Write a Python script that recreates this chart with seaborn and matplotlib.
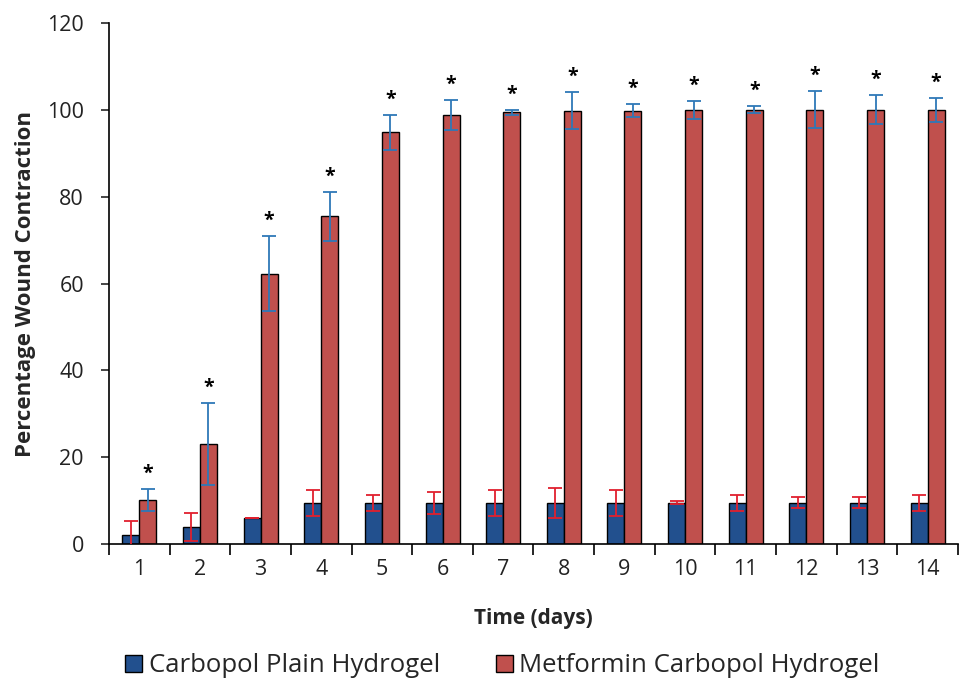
import matplotlib
matplotlib.use("Agg")
import matplotlib.pyplot as plt
import numpy as np
import pandas as pd
import seaborn as sns

# values
days = [str(d) for d in range(1, 15)]
plain_mean = [2.0, 4.0, 6.0, 9.5, 9.5, 9.5, 9.5, 9.5, 9.5, 9.5, 9.5, 9.5, 9.5, 9.5]
plain_err = [3.3, 3.2, 0.0, 3.0, 1.8, 2.5, 3.0, 3.5, 3.0, 0.3, 1.8, 1.3, 1.3, 1.8]
metf_mean = [10.2, 23.0, 62.3, 75.5, 94.8, 98.8, 99.4, 99.8, 99.8, 100.0, 100.0, 100.0, 100.0, 100.0]
metf_err = [2.5, 9.5, 8.6, 5.6, 4.0, 3.5, 0.6, 4.2, 1.5, 2.1, 0.8, 4.3, 3.3, 2.7]
groups = ["Carbopol Plain Hydrogel", "Metformin Carbopol Hydrogel"]

df = pd.DataFrame({
    "day": days * 2,
    "value": plain_mean + metf_mean,
    "group": [groups[0]] * 14 + [groups[1]] * 14,
})

sns.set_style("ticks")
plt.rcParams["font.family"] = ["Open Sans", "DejaVu Sans"]

fig = plt.figure(figsize=(9.61, 6.82), dpi=100)
ax = fig.add_axes([0.1134, 0.2023, 0.8835, 0.764])

bar_colors = ["#22508E", "#C0504D"]
sns.barplot(data=df, x="day", y="value", hue="group", order=days,
            hue_order=groups, palette=bar_colors, width=0.56, gap=0,
            edgecolor="black", linewidth=1.0, saturation=1, ax=ax)

err_colors = ["#E0202E", "#2E78B8"]
errs = [plain_err, metf_err]
means = [plain_mean, metf_mean]
for cont, e, m, c in zip(ax.containers, errs, means, err_colors):
    xs = [b.get_x() + b.get_width() / 2 for b in cont]
    ax.errorbar(xs, m, yerr=e, fmt="none", ecolor=c, elinewidth=1.3,
                capsize=4.7, capthick=1.3, zorder=5)

# significance asterisks above the metformin bars
for b, m, e in zip(ax.containers[1], metf_mean, metf_err):
    ax.text(b.get_x() + b.get_width() / 2, m + e + 1.2, "*",
            ha="center", va="bottom", fontsize=14, fontweight="bold", color="black")

ax.set_xlim(-0.5, 13.5)
ax.set_ylim(0, 120)
ax.set_yticks(np.arange(0, 121, 20))
ax.set_xticks(np.arange(-0.5, 14.0, 1.0), minor=True)
ax.tick_params(axis="x", which="major", length=0, labelsize=15.5, pad=11)
ax.tick_params(axis="x", which="minor", length=8, width=1.2, color="black")
ax.tick_params(axis="y", length=6, width=1.2, labelsize=15.5, pad=12)
for lab in ax.get_yticklabels() + ax.get_xticklabels():
    lab.set_color("#222222")

for s in ["top", "right"]:
    ax.spines[s].set_visible(False)
for s in ["left", "bottom"]:
    ax.spines[s].set_linewidth(1.2)
    ax.spines[s].set_color("black")

ax.set_xlabel("Time (days)", fontsize=15, fontweight="bold", labelpad=20)
ax.set_ylabel("Percentage Wound Contraction", fontsize=16, fontweight="bold", labelpad=8)

handles, labels = ax.get_legend_handles_labels()
ax.legend(handles, labels, loc="center", bbox_to_anchor=(0.523, 0.024),
          bbox_transform=fig.transFigure, ncol=2, frameon=False,
          fontsize=18.5, handlelength=0.65, handleheight=0.65,
          handletextpad=0.25, columnspacing=2.2)

fig.savefig("out.png", dpi=100)
